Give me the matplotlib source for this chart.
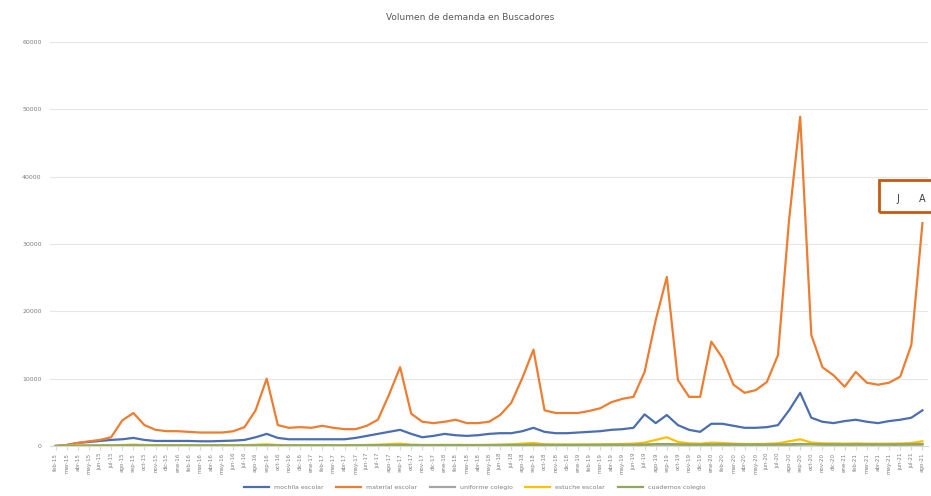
import matplotlib.pyplot as plt
from matplotlib.patches import Rectangle

# meses (feb-15 .. ago-21)
meses_abr = ['ene', 'feb', 'mar', 'abr', 'may', 'jun',
             'jul', 'ago', 'sep', 'oct', 'nov', 'dic']
fechas = []
for n in range(79):
    m = (1 + n) % 12
    a = 15 + (1 + n) // 12
    fechas.append(f'{meses_abr[m]}-{a}')

serie_a = [0, 150, 450, 600, 750, 900, 1000, 1200, 900, 750,
           750, 750, 750, 700, 700, 750, 800, 900, 1300, 1800,
           1200, 1000, 1000, 1000, 1000, 1000, 1000, 1200, 1500, 1800,
           2100, 2400, 1800, 1300, 1500, 1800, 1600, 1500, 1600, 1800,
           1900, 1900, 2200, 2700, 2100, 1900, 1900, 2000, 2100, 2200,
           2400, 2500, 2700, 4700, 3400, 4600, 3100, 2400, 2100, 3300,
           3300, 3000, 2700, 2700, 2800, 3100, 5300, 7900, 4200, 3600,
           3400, 3700, 3900, 3600, 3400, 3700, 3900, 4200, 5300]
serie_b = [0, 150, 450, 700, 900, 1300, 3800, 4900, 3100, 2400,
           2200, 2200, 2100, 2000, 2000, 2000, 2200, 2800, 5300, 10000,
           3100, 2700, 2800, 2700, 3000, 2700, 2500, 2500, 3000, 3900,
           7600, 11700, 4800, 3600, 3400, 3600, 3900, 3400, 3400, 3600,
           4600, 6400, 10100, 14300, 5300, 4900, 4900, 4900, 5200, 5600,
           6500, 7000, 7300, 11000, 18700, 25100, 9800, 7300, 7300, 15500,
           13100, 9100, 7900, 8300, 9500, 13500, 33600, 48900, 16500, 11700,
           10500, 8800, 11000, 9400, 9100, 9400, 10300, 15000, 33100]
serie_c = [0, 20, 40, 50, 60, 70, 80, 90, 80, 70,
           70, 70, 70, 70, 70, 70, 70, 80, 90, 100,
           90, 80, 80, 80, 80, 80, 80, 90, 100, 110,
           120, 130, 110, 100, 100, 110, 110, 100, 110, 110,
           120, 120, 130, 150, 130, 120, 120, 120, 130, 130,
           140, 140, 150, 160, 200, 180, 190, 160, 150, 140,
           160, 160, 150, 150, 150, 150, 160, 200, 250, 180,
           170, 160, 170, 170, 160, 160, 170, 180, 190]
serie_d = [0, 30, 60, 80, 90, 100, 150, 200, 150, 120,
           110, 110, 110, 100, 100, 110, 110, 130, 180, 250,
           150, 130, 130, 130, 130, 130, 130, 140, 160, 200,
           280, 350, 200, 160, 160, 170, 170, 160, 160, 170,
           200, 250, 350, 450, 250, 220, 220, 220, 230, 250,
           280, 300, 350, 500, 900, 1300, 600, 400, 350, 500,
           450, 350, 300, 300, 320, 400, 700, 1000, 500, 400,
           380, 350, 380, 350, 340, 350, 370, 450, 700]
serie_e = [0, 20, 40, 60, 70, 80, 100, 120, 100, 90,
           90, 90, 90, 90, 90, 90, 90, 100, 110, 130,
           110, 100, 100, 100, 100, 100, 100, 110, 120, 130,
           150, 170, 140, 130, 130, 130, 130, 130, 130, 140,
           150, 160, 180, 200, 180, 170, 170, 170, 180, 180,
           190, 200, 210, 230, 280, 300, 250, 230, 220, 250,
           250, 240, 230, 230, 230, 240, 260, 300, 260, 250,
           250, 240, 250, 250, 250, 250, 260, 270, 290]

nombres = ['mochila escolar', 'material escolar', 'uniforme colegio',
           'estuche escolar', 'cuadernos colegio']
series = [serie_a, serie_b, serie_c, serie_d, serie_e]
colores = ['#4A6EB0', '#ED7D31', '#A5A5A5', '#FFC000', '#8FA860']

fig = plt.figure(figsize=(9.31, 4.96), dpi=100)
ax = fig.add_axes([50 / 931, 50 / 496, 878 / 931, 404 / 496])

x = list(range(len(fechas)))
for nombre, datos, color in zip(nombres, series, colores):
    ax.plot(x, datos, color=color, linewidth=1.6, label=nombre)

ax.set_xlim(-0.5, len(fechas) - 0.5)
ax.set_ylim(0, 60000)
ax.set_yticks(range(0, 60001, 10000))
ax.tick_params(axis='y', labelsize=4.5, colors='#7f7f7f', length=0, pad=6)
ax.set_xticks(x)
ax.set_xticklabels(fechas, rotation=90, fontsize=4, color='#7f7f7f')
ax.tick_params(axis='x', length=3, color='#d9d9d9', pad=2)
ax.grid(axis='y', color='#e6e6e6', linewidth=0.8)
ax.set_axisbelow(True)
for lado in ['top', 'right', 'left']:
    ax.spines[lado].set_visible(False)
ax.spines['bottom'].set_color('#d9d9d9')

fig.text(0.505, 0.965, 'Volumen de demanda en Buscadores', ha='center',
         va='center', fontsize=6.5, color='#595959')

fig.legend(loc='center', bbox_to_anchor=(0.51, 0.018), ncol=5,
           fontsize=4.5, frameon=False, handlelength=4, columnspacing=2,
           labelcolor='#7f7f7f')

# recuadro de meses destacado
fig.patches.append(Rectangle((879 / 931, (496 - 212) / 496), 60 / 931, 32 / 496,
                             transform=fig.transFigure, fill=False,
                             edgecolor='#C55A11', linewidth=2))
fig.text(898 / 931, (496 - 199) / 496, 'J', ha='center', va='center',
         fontsize=7, color='#404040')
fig.text(922 / 931, (496 - 199) / 496, 'A', ha='center', va='center',
         fontsize=7, color='#404040')

fig.savefig('out.png', dpi=100)
